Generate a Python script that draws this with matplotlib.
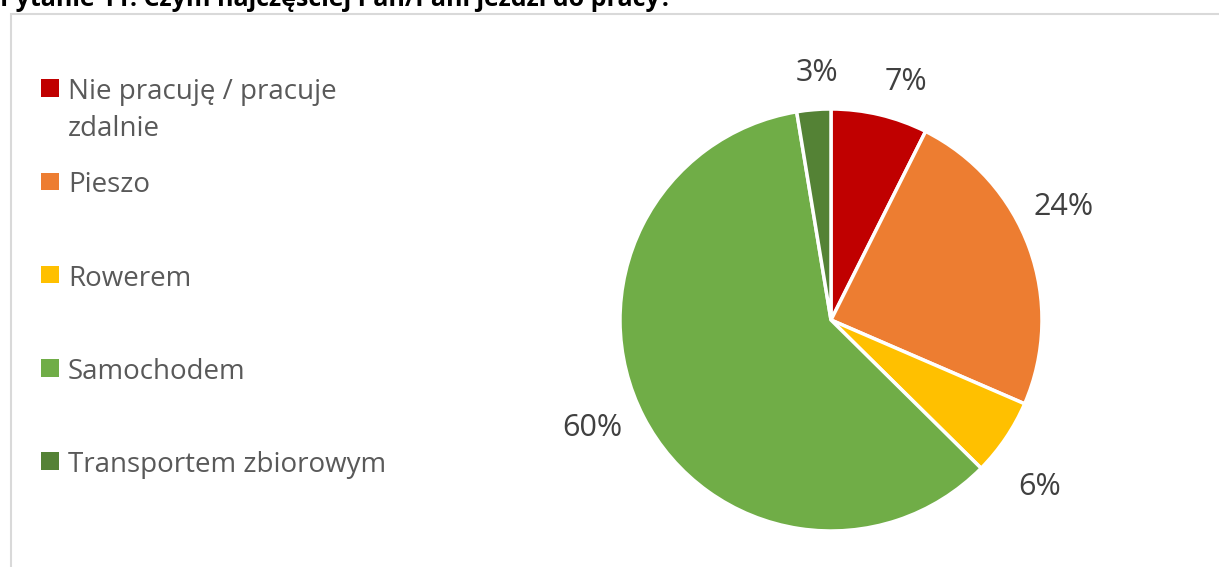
import matplotlib.pyplot as plt
from matplotlib.patches import Rectangle

# Data
categories = ["Nie pracuję / pracuje\nzdalnie", "Pieszo", "Rowerem", "Samochodem", "Transportem zbiorowym"]
shares = [7.4, 24.1, 5.9, 60.0, 2.6]
colors = ["#C00000", "#ED7D31", "#FFC000", "#70AD47", "#548235"]
title = "Pytanie 11. Czym najczęściej Pan/Pani jeździ do pracy?"

# where the percentage labels sit (pie radius = 1)
label_xy = [(0.355, 1.128), (1.10, 0.536), (0.99, -0.79), (-1.133, -0.512), (-0.066, 1.171)]

W, H = 1219, 567
plt.rcParams["font.family"] = ["Open Sans", "DejaVu Sans"]
legend_color = "#595959"
label_color = "#404040"

fig = plt.figure(figsize=(W / 100, H / 100), dpi=100)

# chart frame (cut off at the right and bottom)
fig.patches.append(Rectangle((10.5 / W, -0.1), 1.2, 1.1 - 13.5 / H,
                             transform=fig.transFigure, fill=False,
                             edgecolor="#d9d9d9", linewidth=1.5))

# title, partially cut off at the top
fig.text(0 / W, 1 - 6 / H, title, fontsize=18, fontweight="bold",
         color="black", ha="left", va="baseline")

# pie axes
cx, cy, r = 831, 320, 211
ax = fig.add_axes([(cx - r) / W, 1 - (cy + r) / H, 2 * r / W, 2 * r / H])
wedges, texts, autotexts = ax.pie(
    shares, colors=colors, startangle=90, counterclock=False,
    autopct="%.0f%%", pctdistance=1.2,
    wedgeprops=dict(edgecolor="white", linewidth=2.5),
    textprops=dict(color=label_color, fontsize=22))
for t, (x, y) in zip(autotexts, label_xy):
    t.set_position((x, y))
ax.set_xlim(-1, 1)
ax.set_ylim(-1, 1)
ax.set_aspect("equal")
ax.axis("off")

# legend drawn by hand: marker sits level with the first text line
sq = 17.5
for i, (lab, col) in enumerate(zip(categories, colors)):
    ymid = 88 + i * 93.3
    fig.patches.append(Rectangle((41 / W, 1 - (ymid + sq / 2) / H), sq / W, sq / H,
                                 transform=fig.transFigure, facecolor=col,
                                 edgecolor="none"))
    for k, line in enumerate(lab.split("\n")):
        fig.text(68 / W, 1 - (ymid + 11 + k * 37) / H, line, fontsize=20,
                 color=legend_color, ha="left", va="baseline")

fig.savefig("out.png", dpi=100, facecolor="white")
